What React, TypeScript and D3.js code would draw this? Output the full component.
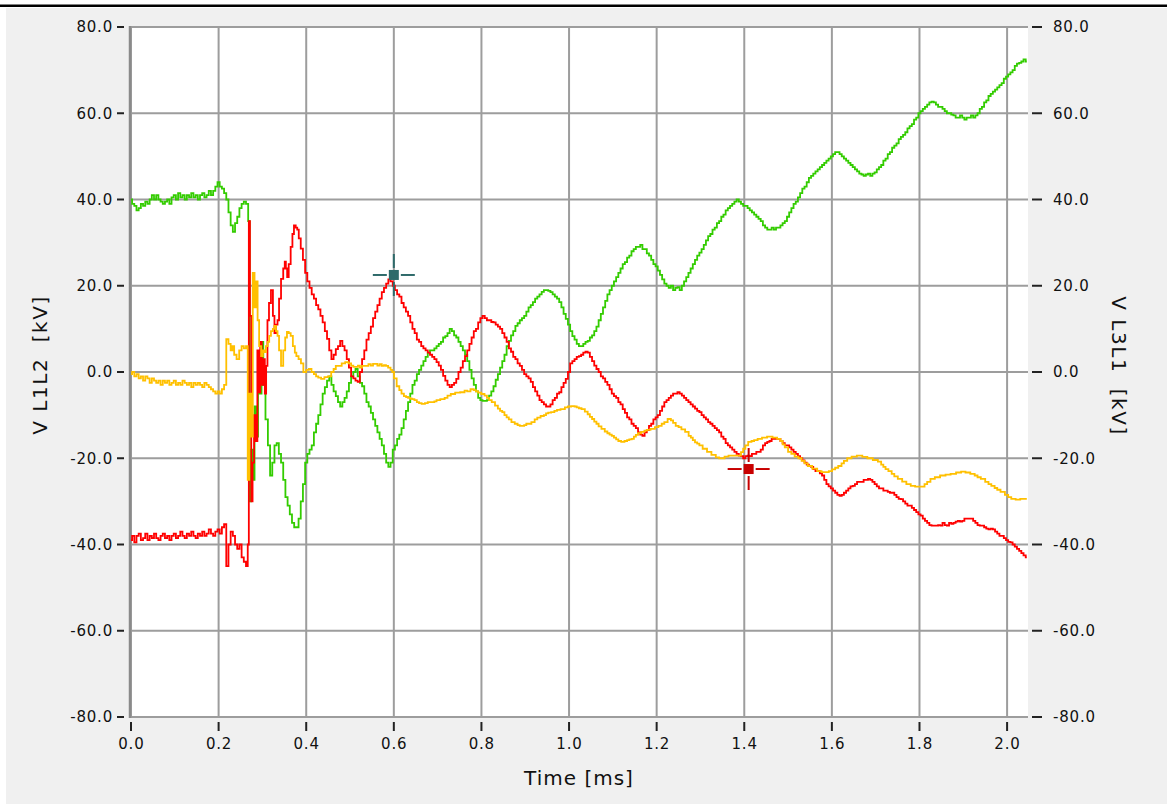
import React from 'react';
import * as d3 from 'd3';

// ---------- data ----------
const xTicks = [0, 0.2, 0.4, 0.6, 0.8, 1.0, 1.2, 1.4, 1.6, 1.8, 2.0];
const yTicks = [-80, -60, -40, -20, 0, 20, 40, 60, 80];

const leftAxisTitle = 'V L1L2\u00a0 [kV]';
const rightAxisTitle = 'V L3L1\u00a0 [kV]';
const xAxisTitle = 'Time [ms]';

// green trace (time ms, kV)
const greenTrace: [number, number][] = [
  [0,40],[0.005,39],[0.01,38.5],[0.015,37.5],[0.02,38],[0.025,39],[0.03,38.5],[0.035,39.5],[0.04,39],[0.045,40],
  [0.05,41],[0.055,40],[0.06,41],[0.065,40],[0.07,39.5],[0.075,39],[0.08,39.5],[0.085,40],[0.09,39],[0.095,40.5],
  [0.1,41],[0.105,40],[0.11,41.5],[0.115,40.5],[0.12,41],[0.125,40],[0.13,41],[0.135,40.5],[0.14,41.5],[0.145,40.5],
  [0.15,41],[0.155,40],[0.16,41],[0.165,41.5],[0.17,40.5],[0.175,41],[0.18,42],[0.185,41],[0.19,42],[0.195,43],
  [0.2,44],[0.205,43],[0.21,42.5],[0.215,41.5],[0.22,40],[0.225,37],[0.23,34],[0.235,32.5],[0.24,34.5],[0.245,36],
  [0.25,38],[0.255,39],[0.26,39.5],[0.265,39],[0.27,35],[0.272,-30],[0.276,-18],[0.28,-25],[0.284,-8],[0.288,-15],
  [0.292,3],[0.296,-5],[0.3,7],[0.304,-3],[0.31,-11],[0.315,-17],[0.32,-24],[0.325,-21],[0.33,-17],[0.335,-16.5],
  [0.34,-19],[0.345,-21],[0.35,-25],[0.355,-29],[0.36,-31],[0.365,-33],[0.37,-35],[0.375,-36],[0.38,-36],[0.385,-34],
  [0.39,-30],[0.395,-26],[0.4,-21],[0.405,-19],[0.41,-18],[0.415,-17],[0.42,-14],[0.425,-12],[0.43,-10],[0.435,-7.5],
  [0.44,-5],[0.445,-3.5],[0.45,-2],[0.455,-1],[0.46,-3],[0.465,-4.5],[0.47,-5.6],[0.475,-7],[0.48,-8],[0.485,-7],
  [0.49,-6],[0.495,-4.5],[0.5,-2.5],[0.505,-1],[0.51,0],[0.515,0.7],[0.52,-1],[0.525,-2.5],[0.53,-3.3],[0.535,-5],
  [0.54,-7],[0.545,-8],[0.55,-9.5],[0.555,-11],[0.56,-12.5],[0.565,-14],[0.57,-15.5],[0.575,-17],[0.58,-19],[0.585,-21],
  [0.59,-22],[0.595,-21],[0.6,-18],[0.605,-17],[0.61,-15.5],[0.615,-14.5],[0.62,-13],[0.625,-11],[0.63,-9],[0.635,-7],
  [0.64,-5],[0.645,-3],[0.65,-2],[0.655,-0.5],[0.66,0.5],[0.665,1.5],[0.67,2.5],[0.675,3.5],[0.68,4.5],[0.685,5],
  [0.69,5],[0.695,5.5],[0.7,6],[0.705,6.5],[0.71,7],[0.715,8],[0.72,8.3],[0.725,9],[0.73,10],[0.735,9.5],
  [0.74,8.5],[0.745,8],[0.75,7],[0.755,6],[0.76,5],[0.765,4],[0.77,2.5],[0.775,0.5],[0.78,-1.5],[0.785,-3],
  [0.79,-4.5],[0.795,-6],[0.8,-6.5],[0.805,-6.7],[0.81,-6.7],[0.815,-6.5],[0.82,-5.5],[0.825,-4.5],[0.83,-3.3],[0.835,-1.8],
  [0.84,-0.5],[0.845,1],[0.85,2.5],[0.855,4],[0.86,6],[0.865,7.2],[0.87,8.5],[0.875,9.5],[0.88,10.7],[0.885,11.3],
  [0.89,12],[0.895,12.5],[0.9,13],[0.905,14],[0.91,15],[0.915,15.5],[0.92,16.2],[0.925,17],[0.93,17.5],[0.935,18],
  [0.94,18.6],[0.945,19],[0.95,19],[0.955,18.8],[0.96,18.5],[0.965,18],[0.97,17.5],[0.975,17],[0.98,16.2],[0.985,15],
  [0.99,13.5],[0.995,12.3],[1.0,11],[1.005,9.5],[1.01,8.3],[1.015,7.5],[1.02,6.5],[1.025,6],[1.03,6],[1.035,6.5],
  [1.04,7],[1.045,7.2],[1.05,8],[1.055,8.5],[1.06,9.5],[1.065,10.5],[1.07,12],[1.075,13.5],[1.08,15],[1.085,16.5],
  [1.09,18],[1.095,19],[1.1,20],[1.105,21],[1.11,22],[1.115,23],[1.12,24],[1.125,25],[1.13,25.5],[1.135,26.5],
  [1.14,27],[1.145,28],[1.15,28.5],[1.155,29],[1.16,29],[1.165,29.5],[1.17,28.5],[1.175,28.5],[1.18,27.5],[1.185,27],
  [1.19,26],[1.195,25],[1.2,24.5],[1.205,23.5],[1.21,22.5],[1.215,21.5],[1.22,20.5],[1.225,20],[1.23,19.5],[1.235,20],
  [1.24,19],[1.245,19.5],[1.25,19.7],[1.255,19],[1.26,20],[1.265,21],[1.27,22],[1.275,23],[1.28,24],[1.285,25],
  [1.29,26],[1.295,27],[1.3,27.7],[1.305,28.5],[1.31,29.5],[1.315,30.5],[1.32,31.5],[1.325,32],[1.33,33],[1.335,33.5],
  [1.34,34.5],[1.345,35],[1.35,36],[1.355,36.5],[1.36,37.5],[1.365,38],[1.37,38.5],[1.375,39],[1.38,39.5],[1.385,40],
  [1.39,39.5],[1.395,39],[1.4,38.5],[1.405,38.5],[1.41,38],[1.415,37.5],[1.42,37],[1.425,36.5],[1.43,36],[1.435,35.5],
  [1.44,35],[1.445,34],[1.45,33.5],[1.455,33],[1.46,33],[1.465,33.5],[1.47,33],[1.475,33.5],[1.48,33.5],[1.485,34],
  [1.49,34.5],[1.495,35],[1.5,36],[1.505,37],[1.51,38],[1.515,39],[1.52,39.5],[1.525,40.5],[1.53,41.5],[1.535,42.5],
  [1.54,43],[1.545,44],[1.55,45],[1.555,45.5],[1.56,46],[1.565,46.5],[1.57,47],[1.575,47.5],[1.58,48],[1.585,48.5],
  [1.59,49],[1.595,49.5],[1.6,50],[1.605,50.5],[1.61,51],[1.615,51],[1.62,50.5],[1.625,50],[1.63,49.5],[1.635,49],
  [1.64,48.5],[1.645,48],[1.65,47.5],[1.655,47],[1.66,46.5],[1.665,46],[1.67,45.8],[1.675,45.5],[1.68,45.8],[1.685,46],
  [1.69,45.5],[1.695,46],[1.7,46.3],[1.705,47],[1.71,47.5],[1.715,48],[1.72,49],[1.725,49.5],[1.73,50.5],[1.735,51],
  [1.74,52],[1.745,52.5],[1.75,53],[1.755,54],[1.76,54.5],[1.765,55],[1.77,55.6],[1.775,56.5],[1.78,57],[1.785,57.5],
  [1.79,58.5],[1.795,59],[1.8,60],[1.805,60.5],[1.81,61],[1.815,61.5],[1.82,62],[1.825,62.5],[1.83,62.7],[1.835,62.5],
  [1.84,62],[1.845,61.5],[1.85,61.5],[1.855,61],[1.86,60.5],[1.865,60],[1.87,60],[1.875,59.7],[1.88,59.5],[1.885,59],
  [1.89,59],[1.895,59.5],[1.9,59],[1.905,58.5],[1.91,59],[1.915,59],[1.92,59.5],[1.925,59],[1.93,59.5],[1.935,60],
  [1.94,61],[1.945,61.5],[1.95,62.5],[1.955,63],[1.96,64],[1.965,64.5],[1.97,65],[1.975,65.5],[1.98,66],[1.985,66.5],
  [1.99,67],[1.995,68],[2.0,68.5],[2.005,69],[2.01,69.5],[2.015,70],[2.02,71],[2.025,71.5],[2.03,71.7],[2.035,72],
  [2.04,72.5],[2.045,72],
];

// red trace (time ms, kV)
const redTrace: [number, number][] = [
  [0,-39],[0.005,-38],[0.01,-39.5],[0.015,-38],[0.02,-37.5],[0.025,-39],[0.03,-38.5],[0.035,-37.5],[0.04,-39],[0.045,-38],
  [0.05,-38.5],[0.055,-37.5],[0.06,-38.5],[0.065,-39],[0.07,-38],[0.075,-37.5],[0.08,-38.5],[0.085,-38],[0.09,-39],[0.095,-38],
  [0.1,-37.5],[0.105,-38.5],[0.11,-38],[0.115,-37],[0.12,-38],[0.125,-38.5],[0.13,-37.5],[0.135,-38],[0.14,-37],[0.145,-38],
  [0.15,-38.5],[0.155,-37.5],[0.16,-38],[0.165,-37],[0.17,-38],[0.175,-37.5],[0.18,-36.5],[0.185,-37.5],[0.19,-38],[0.195,-37],
  [0.2,-36.5],[0.205,-37.5],[0.21,-36],[0.215,-35.3],[0.22,-45],[0.225,-40],[0.23,-37],[0.235,-38],[0.24,-40],[0.245,-41],
  [0.25,-40],[0.255,-43],[0.26,-44],[0.265,-45],[0.268,-40],[0.27,35],[0.273,13],[0.276,-30],[0.279,-21],[0.283,-10],
  [0.287,-16],[0.29,5],[0.293,-4.7],[0.297,7],[0.3,-3],[0.304,3],[0.307,-5],[0.31,1.4],[0.313,12],[0.317,16],
  [0.322,19],[0.326,13],[0.329,9],[0.333,11],[0.336,12],[0.34,17],[0.345,21.6],[0.35,24],[0.352,25.6],[0.355,24],
  [0.358,22],[0.362,25],[0.367,29],[0.37,32],[0.374,34],[0.378,33.5],[0.381,33],[0.385,31],[0.39,28.6],[0.395,26],
  [0.4,23],[0.405,21],[0.41,19.5],[0.415,18],[0.42,17],[0.425,15.5],[0.43,14.5],[0.435,13],[0.44,11.5],[0.445,9.5],
  [0.45,7.7],[0.455,5],[0.46,3],[0.465,4],[0.47,5.3],[0.475,6],[0.48,7.2],[0.485,6],[0.49,5],[0.495,3],
  [0.5,1],[0.505,-1],[0.51,-1.5],[0.515,-2],[0.52,-2.3],[0.525,0],[0.53,3],[0.535,5],[0.54,7.5],[0.545,9],
  [0.55,10.5],[0.555,12.5],[0.56,14],[0.565,15.5],[0.57,17],[0.575,18.5],[0.58,19.5],[0.585,20.5],[0.59,21.5],[0.595,21],
  [0.6,20],[0.605,19],[0.61,18],[0.615,17.5],[0.62,16],[0.625,15],[0.63,14],[0.635,13],[0.64,11.5],[0.645,10],
  [0.65,9],[0.655,7.5],[0.66,7],[0.665,6],[0.67,5.5],[0.675,5],[0.68,4.5],[0.685,4],[0.69,3.5],[0.695,3],
  [0.7,2.3],[0.705,1.5],[0.71,0.5],[0.715,-0.9],[0.72,-2],[0.725,-3],[0.73,-3.5],[0.735,-3],[0.74,-2.5],[0.745,-1.6],
  [0.75,0],[0.755,1],[0.76,2.5],[0.765,3.7],[0.77,5],[0.775,6.5],[0.78,8],[0.785,9.5],[0.79,10],[0.795,11.5],
  [0.8,12.5],[0.805,13],[0.81,12.5],[0.815,12],[0.82,12],[0.825,11.6],[0.83,11.5],[0.835,11],[0.84,10.5],[0.845,10],
  [0.85,9],[0.855,8],[0.86,7],[0.865,5.5],[0.87,4.7],[0.875,3.5],[0.88,3],[0.885,2],[0.89,1.4],[0.895,0.5],
  [0.9,-0.5],[0.905,-1],[0.91,-1.5],[0.915,-2.3],[0.92,-3.5],[0.925,-4.5],[0.93,-5.5],[0.935,-6.5],[0.94,-7],[0.945,-7.5],
  [0.95,-8],[0.955,-8],[0.96,-7.5],[0.965,-6.5],[0.97,-6],[0.975,-5],[0.98,-4.7],[0.985,-3.5],[0.99,-2.5],[0.995,-1.6],
  [1.0,0],[1.005,2],[1.01,2.5],[1.015,3],[1.02,3.5],[1.025,3.7],[1.03,4],[1.035,4.5],[1.04,4.7],[1.045,4.5],
  [1.05,3.5],[1.055,2.5],[1.06,1.5],[1.065,0.7],[1.07,0],[1.075,-1],[1.08,-1.5],[1.085,-2.3],[1.09,-3],[1.095,-4],
  [1.1,-5],[1.105,-5.6],[1.11,-6],[1.115,-7],[1.12,-7.5],[1.125,-8.6],[1.13,-9.5],[1.135,-10.5],[1.14,-11],[1.145,-12],
  [1.15,-12.5],[1.155,-13],[1.16,-14],[1.165,-14.5],[1.17,-14.8],[1.175,-14],[1.18,-13.5],[1.185,-12.5],[1.19,-12],[1.195,-11],
  [1.2,-10.5],[1.205,-10],[1.21,-9],[1.215,-8],[1.22,-7],[1.225,-6.5],[1.23,-6],[1.235,-5.5],[1.24,-5],[1.245,-5],
  [1.25,-4.7],[1.255,-5],[1.26,-5.5],[1.265,-6],[1.27,-6.5],[1.275,-7],[1.28,-7.5],[1.285,-8],[1.29,-8.5],[1.295,-9],
  [1.3,-9.3],[1.305,-10],[1.31,-10.5],[1.315,-11],[1.32,-11.6],[1.325,-12],[1.33,-12.5],[1.335,-13],[1.34,-13.5],[1.345,-14],
  [1.35,-15],[1.355,-15.5],[1.36,-16.5],[1.365,-17],[1.37,-17.5],[1.375,-18],[1.38,-18.5],[1.385,-19],[1.39,-19.4],[1.395,-19.5],
  [1.4,-20],[1.405,-19.5],[1.41,-19.4],[1.415,-19.5],[1.42,-19],[1.425,-19],[1.43,-18.5],[1.435,-18.5],[1.44,-18],[1.445,-17],
  [1.45,-16.5],[1.455,-16.2],[1.46,-16],[1.465,-15.5],[1.47,-15.5],[1.475,-15.5],[1.48,-15.5],[1.485,-16],[1.49,-16.5],[1.495,-17],
  [1.5,-17],[1.505,-17.5],[1.51,-18],[1.515,-18.5],[1.52,-19],[1.525,-19.5],[1.53,-20],[1.535,-20.5],[1.54,-21],[1.545,-21.5],
  [1.55,-21.8],[1.555,-22],[1.56,-22.5],[1.565,-23],[1.57,-23],[1.575,-23.5],[1.58,-24],[1.585,-25],[1.59,-26],[1.595,-26.5],
  [1.6,-27],[1.605,-27.5],[1.61,-28],[1.615,-28.5],[1.62,-28.7],[1.625,-28.5],[1.63,-28],[1.635,-27.5],[1.64,-27],[1.645,-26.5],
  [1.65,-26.4],[1.655,-26],[1.66,-25.5],[1.665,-25.5],[1.67,-25.5],[1.675,-25],[1.68,-25],[1.685,-24.8],[1.69,-25],[1.695,-25.5],
  [1.7,-26],[1.705,-26.5],[1.71,-27],[1.715,-27],[1.72,-27.5],[1.725,-27.5],[1.73,-27.8],[1.735,-28],[1.74,-28],[1.745,-28.5],
  [1.75,-29],[1.755,-29.4],[1.76,-29.5],[1.765,-30],[1.77,-30.5],[1.775,-31],[1.78,-31],[1.785,-31.5],[1.79,-32],[1.795,-32.5],
  [1.8,-33],[1.805,-33.3],[1.81,-34],[1.815,-34.5],[1.82,-35],[1.825,-35.5],[1.83,-35.6],[1.835,-35.6],[1.84,-35.6],[1.845,-35.5],
  [1.85,-35.6],[1.855,-35],[1.86,-35.5],[1.865,-35.6],[1.87,-35],[1.875,-35.2],[1.88,-35],[1.885,-34.7],[1.89,-34.5],[1.895,-34.7],
  [1.9,-34.5],[1.905,-34],[1.91,-34],[1.915,-34],[1.92,-34],[1.925,-34.5],[1.93,-35],[1.935,-35.5],[1.94,-35.6],[1.945,-35.6],
  [1.95,-36],[1.955,-36.3],[1.96,-36.5],[1.965,-36.3],[1.97,-36.5],[1.975,-37],[1.98,-37.5],[1.985,-38],[1.99,-38],[1.995,-38.5],
  [2.0,-39],[2.005,-39.4],[2.01,-39.5],[2.015,-40],[2.02,-40.5],[2.025,-41],[2.03,-41.5],[2.035,-42],[2.04,-42.5],[2.045,-43],
];

// yellow trace (time ms, kV)
const yellowTrace: [number, number][] = [
  [0,-0.5],[0.005,0],[0.01,-1],[0.015,-0.5],[0.02,-1.5],[0.025,-1],[0.03,-2],[0.035,-1],[0.04,-1.5],[0.045,-2.5],
  [0.05,-1.5],[0.055,-2],[0.06,-2.5],[0.065,-2],[0.07,-3],[0.075,-2],[0.08,-2.5],[0.085,-2],[0.09,-3],[0.095,-2.5],
  [0.1,-2],[0.105,-3],[0.11,-2.5],[0.115,-3],[0.12,-2],[0.125,-2.5],[0.13,-3],[0.135,-2.5],[0.14,-3.5],[0.145,-2.5],
  [0.15,-3],[0.155,-2.5],[0.16,-3],[0.165,-3.5],[0.17,-2.5],[0.175,-3],[0.18,-3.5],[0.185,-4],[0.19,-4.5],[0.195,-5],
  [0.2,-4.5],[0.205,-5],[0.21,-4],[0.215,-3],[0.22,7.6],[0.225,6.5],[0.23,5],[0.233,6],[0.238,4],[0.244,3],
  [0.25,5],[0.255,6],[0.26,5.5],[0.265,6],[0.268,-25],[0.272,-5],[0.276,-15],[0.28,23],[0.284,15],[0.288,21],
  [0.29,12],[0.295,6],[0.299,3.7],[0.303,5],[0.306,4.6],[0.31,6],[0.314,7],[0.317,8.4],[0.322,9.5],[0.326,10],
  [0.329,10.7],[0.333,9.5],[0.336,8.4],[0.34,5],[0.345,1.4],[0.35,5],[0.354,8],[0.358,9.3],[0.362,9],[0.367,8.4],
  [0.372,6],[0.376,4.5],[0.379,3.7],[0.386,3],[0.39,2],[0.397,0],[0.403,0.5],[0.409,0.7],[0.415,0],[0.42,-0.5],
  [0.425,-1],[0.43,-1.3],[0.438,-1.6],[0.445,-1.2],[0.454,-1],[0.46,0],[0.465,0.7],[0.47,1.4],[0.477,1.4],[0.485,2],
  [0.493,2.3],[0.5,2],[0.505,1.5],[0.51,1.2],[0.516,1.2],[0.52,1.5],[0.525,1],[0.53,1.4],[0.539,1.4],[0.545,1.8],
  [0.55,1.5],[0.555,1.9],[0.56,1.9],[0.565,1.5],[0.57,1.8],[0.575,1.4],[0.58,1.6],[0.584,1.4],[0.59,1],[0.595,0.5],
  [0.598,0],[0.603,-1.5],[0.61,-3.3],[0.615,-4.2],[0.62,-5],[0.626,-5.6],[0.63,-5.8],[0.635,-6],[0.64,-6.2],[0.644,-6.3],
  [0.65,-6.5],[0.655,-7],[0.66,-7.2],[0.667,-7.4],[0.675,-7.2],[0.68,-7],[0.69,-7],[0.695,-6.8],[0.7,-6.5],[0.712,-6.3],
  [0.72,-6],[0.725,-5.5],[0.735,-5.1],[0.745,-4.8],[0.758,-4.7],[0.765,-4.3],[0.77,-4.5],[0.78,-4],[0.785,-4.2],[0.79,-4.5],
  [0.795,-4.8],[0.804,-5.1],[0.81,-5.5],[0.815,-6],[0.82,-6.5],[0.827,-7],[0.835,-7.8],[0.84,-8.5],[0.845,-9],[0.85,-9.3],
  [0.855,-10],[0.86,-10.5],[0.865,-11],[0.872,-11.6],[0.88,-12],[0.885,-12.3],[0.89,-12.5],[0.895,-12.5],[0.9,-12.3],[0.905,-12],
  [0.91,-12],[0.918,-11.6],[0.925,-11],[0.93,-10.6],[0.94,-10.2],[0.945,-10],[0.95,-9.6],[0.955,-9.4],[0.963,-9.3],[0.97,-9],
  [0.975,-8.8],[0.986,-8.6],[0.995,-8.2],[1.0,-8],[1.01,-7.9],[1.015,-8],[1.02,-8.2],[1.025,-8.4],[1.032,-8.6],[1.04,-9.2],
  [1.045,-9.8],[1.05,-10.4],[1.055,-10.9],[1.06,-11.5],[1.065,-12],[1.07,-12.6],[1.078,-13.2],[1.085,-13.8],[1.09,-14.2],[1.095,-14.5],
  [1.1,-14.8],[1.105,-15.2],[1.11,-15.6],[1.115,-16],[1.123,-16.2],[1.13,-16],[1.135,-15.8],[1.14,-15.6],[1.146,-15.5],[1.15,-15],
  [1.155,-14.6],[1.16,-14.2],[1.169,-13.9],[1.175,-13.6],[1.18,-13.4],[1.192,-13.2],[1.2,-12.8],[1.208,-12.5],[1.215,-12],[1.22,-11.6],
  [1.23,-10.9],[1.235,-11.2],[1.24,-11.8],[1.247,-12.5],[1.253,-12.8],[1.26,-13.3],[1.27,-13.9],[1.276,-14.8],[1.28,-15.2],[1.285,-15.8],
  [1.29,-16.3],[1.295,-16.6],[1.3,-17],[1.31,-17.8],[1.32,-18.5],[1.33,-19.2],[1.34,-19.8],[1.345,-20],[1.35,-20],[1.36,-19.6],
  [1.368,-19.4],[1.38,-19.4],[1.39,-19.4],[1.395,-18.6],[1.4,-17.8],[1.405,-17],[1.413,-16.2],[1.42,-16],[1.425,-15.8],[1.436,-15.5],
  [1.445,-15.2],[1.459,-15],[1.47,-15.2],[1.48,-15.5],[1.485,-16],[1.49,-16.8],[1.495,-17.5],[1.505,-18.5],[1.51,-19],[1.52,-19.6],
  [1.527,-20],[1.535,-20.6],[1.54,-21.2],[1.55,-21.8],[1.56,-22.4],[1.573,-23],[1.58,-23.2],[1.59,-23.2],[1.596,-23],[1.605,-22.6],
  [1.61,-22.2],[1.619,-21.8],[1.625,-21.2],[1.63,-20.6],[1.64,-20],[1.65,-19.6],[1.664,-19.4],[1.675,-19.7],[1.687,-20],[1.7,-20.4],
  [1.71,-20.8],[1.715,-21.5],[1.72,-22],[1.725,-22.5],[1.733,-23],[1.74,-23.6],[1.745,-24.2],[1.756,-24.8],[1.765,-25.4],[1.775,-26],
  [1.785,-26.4],[1.795,-26.6],[1.808,-26.6],[1.815,-26],[1.82,-25.5],[1.83,-24.8],[1.84,-24.4],[1.854,-24],[1.865,-23.8],[1.877,-23.6],
  [1.89,-23.3],[1.9,-23.1],[1.91,-23.3],[1.922,-23.6],[1.93,-24],[1.935,-24.4],[1.945,-24.8],[1.955,-25.5],[1.96,-26],[1.968,-26.4],
  [1.975,-26.9],[1.98,-27.3],[1.99,-27.8],[2.0,-28.5],[2.005,-29],[2.014,-29.4],[2.025,-29.6],[2.035,-29.4],[2.045,-29.4],
];

// cursor markers (time ms, kV)
const cursorTimes = [0.6, 1.41];
const cursorValues = [22.5, -22.5];
const cursorColors = ['#2e6a6a', '#c80000'];

const traceColors = { green: '#33cc00', red: '#ff0000', yellow: '#ffc000' };

export default function App() {
  const W = 1167;
  const H = 805;
  const plotLeft = 130;
  const plotRight = 1028;
  const plotTop = 27;
  const plotBottom = 717;

  const x = d3.scaleLinear().domain([0, 2.05]).range([131, 1029]);
  const y = d3.scaleLinear().domain([-80, 80]).range([plotBottom, plotTop]);

  const line = d3
    .line<[number, number]>()
    .x((d) => x(d[0]))
    .y((d) => y(d[1]))
    .curve(d3.curveStep);

  const fmt = (v: number) => v.toFixed(1);
  const font = 'DejaVu Sans, Verdana, sans-serif';
  const gridColor = '#9d9d9d';

  return (
    <svg
      width={W}
      height={H}
      style={{ position: 'absolute', left: 0, top: 0, display: 'block' }}
      xmlns="http://www.w3.org/2000/svg"
    >
      <rect x={0} y={0} width={W} height={H} fill="#ffffff" />
      <rect x={6} y={8} width={W - 6} height={H - 9} fill="#f0f0f0" />
      <rect x={0} y={4.5} width={W} height={2.5} fill="#000000" />
      <defs>
        <clipPath id="plotClip">
          <rect x={plotLeft} y={plotTop - 1} width={plotRight - plotLeft} height={plotBottom - plotTop + 2} />
        </clipPath>
      </defs>
      <rect x={plotLeft} y={plotTop} width={plotRight - plotLeft} height={plotBottom - plotTop} fill="#ffffff" />

      {/* grid */}
      <g>
        {xTicks.map((t) => (
          <line key={'gx' + t} x1={x(t)} x2={x(t)} y1={plotTop} y2={plotBottom} stroke={gridColor} strokeWidth={2} />
        ))}
        {yTicks.map((v) => (
          <line key={'gy' + v} x1={plotLeft} x2={plotRight} y1={y(v)} y2={y(v)} stroke={gridColor} strokeWidth={2} />
        ))}
        <line x1={plotLeft} x2={plotLeft} y1={plotTop - 1} y2={plotBottom + 1} stroke="#8a8a8a" strokeWidth={2.5} />
      </g>

      {/* traces */}
      <g clipPath="url(#plotClip)" fill="none" strokeLinejoin="miter">
        <path d={line(greenTrace) || ''} stroke={traceColors.green} strokeWidth={1.8} />
        <path d={line(redTrace) || ''} stroke={traceColors.red} strokeWidth={1.8} />
        <path d={line(yellowTrace) || ''} stroke={traceColors.yellow} strokeWidth={1.8} />
      </g>

      {/* cursors */}
      {cursorTimes.map((t, i) => {
        const cx = x(t);
        const cy = y(cursorValues[i]);
        const c = cursorColors[i];
        return (
          <g key={'cur' + i} stroke={c} strokeWidth={2}>
            <line x1={cx - 21} x2={cx - 7} y1={cy} y2={cy} />
            <line x1={cx + 7} x2={cx + 21} y1={cy} y2={cy} />
            <line x1={cx} x2={cx} y1={cy - 21} y2={cy - 7} />
            <line x1={cx} x2={cx} y1={cy + 7} y2={cy + 21} />
            <rect x={cx - 5} y={cy - 5} width={10} height={10} fill={c} stroke="none" />
          </g>
        );
      })}

      {/* axes */}
      <g fontFamily={font} fontSize={15} fill="#111" letterSpacing={0.8}>
        {yTicks.map((v) => (
          <g key={'ly' + v}>
            <line x1={117} x2={124} y1={y(v)} y2={y(v)} stroke="#222" strokeWidth={2} />
            <text x={113} y={y(v)} dy="0.36em" textAnchor="end">
              {fmt(v)}
            </text>
            <line x1={1032} x2={1042} y1={y(v)} y2={y(v)} stroke="#222" strokeWidth={2} />
            <text x={1053} y={y(v)} dy="0.36em" textAnchor="start">
              {fmt(v)}
            </text>
          </g>
        ))}
        {xTicks.map((t) => (
          <g key={'lx' + t}>
            <line x1={x(t)} x2={x(t)} y1={722} y2={731} stroke="#222" strokeWidth={2} />
            <text x={x(t) + 0.4} y={749} textAnchor="middle">
              {fmt(t)}
            </text>
          </g>
        ))}
      </g>

      {/* axis titles */}
      <g fontFamily={font} fontSize={20} fill="#111">
        <text x={(plotLeft + plotRight) / 2} y={785} textAnchor="middle" letterSpacing={1}>
          {xAxisTitle}
        </text>
        <text transform={`translate(47,${365}) rotate(-90)`} textAnchor="middle" letterSpacing={1.5}>
          {leftAxisTitle}
        </text>
        <text transform={`translate(1112,${366}) rotate(90)`} textAnchor="middle" letterSpacing={1.5}>
          {rightAxisTitle}
        </text>
      </g>
    </svg>
  );
}
